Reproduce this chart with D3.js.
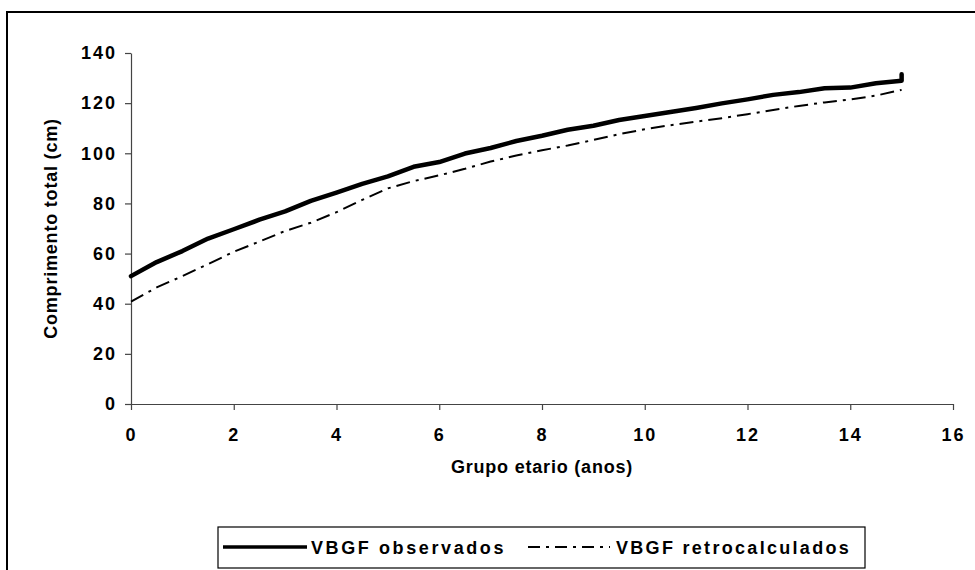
<!DOCTYPE html>
<html><head><meta charset="utf-8">
<script src="https://cdn.jsdelivr.net/npm/d3@7"></script>
<style>
html,body{margin:0;padding:0;background:#fff;}
svg{display:block;font-family:"Liberation Sans",Arial,sans-serif;}
</style></head>
<body><svg id="c" width="975" height="570"></svg>
<script>
const ages = [0,0.5,1,1.5,2,2.5,3,3.5,4,4.5,5,5.5,6,6.5,7,7.5,8,8.5,9,9.5,10,10.5,11,11.5,12,12.5,13,13.5,14,14.5,15];
const observados = [51.0,56.6,61.0,66.0,69.7,73.5,76.8,81.0,84.3,87.8,90.8,94.6,96.5,99.9,102.1,104.9,107.0,109.4,111.0,113.3,114.9,116.5,118.1,119.9,121.5,123.3,124.4,125.9,126.2,127.9,128.9];
const observadosEnd = [[15,128.9],[15,131.5]];
const retrocalculados = [40.8,46.5,51.0,55.8,60.7,64.8,69.0,72.3,76.5,81.4,86.0,88.9,91.2,93.8,96.7,99.1,101.2,103.1,105.3,107.6,109.6,111.2,112.6,114.0,115.6,117.3,118.9,120.3,121.5,123.0,125.3];
const xTicks = [0,2,4,6,8,10,12,14,16];
const yTicks = [0,20,40,60,80,100,120,140];
const seriesNames = ["VBGF observados","VBGF retrocalculados"];
const xTitle = "Grupo etario (anos)";
const yTitle = "Comprimento total (cm)";

const svg = d3.select("#c");
// outer chart frame (cropped at right/bottom)
svg.append("rect").attr("x",7).attr("y",12).attr("width",1000).attr("height",600)
  .attr("fill","none").attr("stroke","#000").attr("stroke-width",2);

const x = d3.scaleLinear().domain([0,16]).range([131,953]);
const y = d3.scaleLinear().domain([0,140]).range([404,53]);

const ax = svg.append("g").attr("transform","translate(0,404)")
  .call(d3.axisBottom(x).tickValues(xTicks).tickSize(6).tickPadding(18).tickSizeOuter(0));
const ay = svg.append("g").attr("transform","translate(131,0)")
  .call(d3.axisLeft(y).tickValues(yTicks).tickSize(6).tickPadding(8).tickSizeOuter(0));
[ax,ay].forEach(g=>{
  g.selectAll("path,line").attr("stroke","#444").attr("stroke-width",1.2);
  g.selectAll("text").attr("font-size",18).attr("font-weight","bold").attr("fill","#000")
   .attr("font-family","Liberation Sans, Arial, sans-serif").style("letter-spacing","2px");
});

svg.append("text").attr("x",542).attr("y",473).attr("text-anchor","middle")
  .attr("font-size",18).attr("font-weight","bold").style("letter-spacing","0.8px").text(xTitle);
svg.append("text").attr("transform","translate(57,228.5) rotate(-90)").attr("text-anchor","middle")
  .attr("font-size",18).attr("font-weight","bold").style("letter-spacing","0.8px").text(yTitle);

const line = d3.line().x(d=>x(d[0])).y(d=>y(d[1]));
const retroPts = ages.map((a,i)=>[a,retrocalculados[i]]);
const obsPts = ages.map((a,i)=>[a,observados[i]]).concat(observadosEnd.slice(1));

svg.append("path").attr("d",line(retroPts)).attr("fill","none").attr("stroke","#000")
  .attr("stroke-width",2).attr("stroke-dasharray","14,6,3,6");
svg.append("path").attr("d",line(obsPts)).attr("fill","none").attr("stroke","#000")
  .attr("stroke-width",4.5).attr("stroke-linecap","round").attr("stroke-linejoin","round");

// legend
const lg = svg.append("g");
lg.append("rect").attr("x",218).attr("y",527).attr("width",647).attr("height",41)
  .attr("fill","#fff").attr("stroke","#000").attr("stroke-width",1.2);
lg.append("line").attr("x1",223).attr("x2",307).attr("y1",547).attr("y2",547)
  .attr("stroke","#000").attr("stroke-width",3.5);
lg.append("text").attr("x",311).attr("y",554).attr("font-size",18).attr("font-weight","bold")
  .style("letter-spacing","2.6px").text(seriesNames[0]);
lg.append("line").attr("x1",528).attr("x2",610).attr("y1",547).attr("y2",547)
  .attr("stroke","#000").attr("stroke-width",2).attr("stroke-dasharray","12,6,3,6");
lg.append("text").attr("x",616).attr("y",554).attr("font-size",18).attr("font-weight","bold")
  .style("letter-spacing","2.3px").text(seriesNames[1]);
</script></body></html>
